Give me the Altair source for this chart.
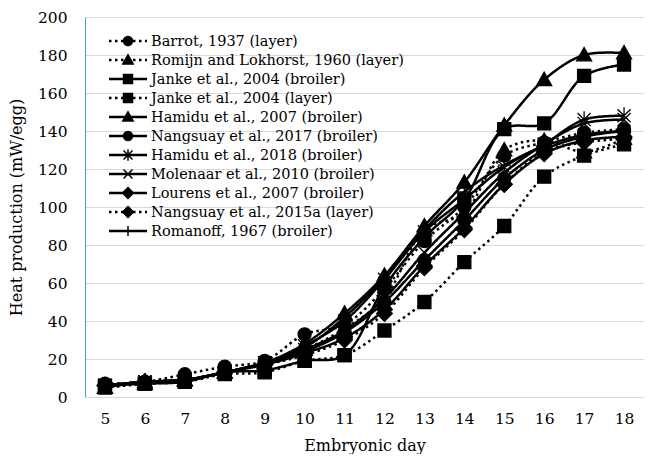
import altair as alt
import pandas as pd

days = list(range(5, 19))

series = [
    "Barrot, 1937 (layer)",
    "Romijn and Lokhorst, 1960 (layer)",
    "Janke et al., 2004 (broiler)",
    "Janke et al., 2004 (layer)",
    "Hamidu et al., 2007 (broiler)",
    "Nangsuay et al., 2017 (broiler)",
    "Hamidu et al., 2018 (broiler)",
    "Molenaar et al., 2010 (broiler)",
    "Lourens et al., 2007 (broiler)",
    "Nangsuay et al., 2015a (layer)",
    "Romanoff, 1967 (broiler)",
]

barrot = [7, 8, 12, 16, 19, 33, 38, 57, 82, 100, 127, 134, 139, 141]
romijn = [5, 7, 9, 13, 18, 25, 36, 52, 88, 97, 130, 135, 129, 136]
janke_broiler = [6, 7, 8, 13, 14, 19, 22, 58, 84, 104, 141, 144, 169, 175]
janke_layer = [5, 7, 8, 12, 13, 19, 22, 35, 50, 71, 90, 116, 127, 133]
hamidu2007 = [5, 8, 9, 13, 18, 28, 44, 64, 90, 113, 143, 167, 180, 181]
nangsuay2017 = [6, 8, 9, 13, 18, 24, 34, 50, 72, 93, 115, 130, 137, 140]
hamidu2018 = [6, 8, 9, 13, 18, 27, 40, 62, 87, 104, 121, 133, 146, 148]
molenaar = [6, 8, 9, 13, 18, 25, 35, 52, 76, 97, 118, 133, 144, 146]
lourens = [6, 8, 9, 13, 17, 23, 31, 46, 69, 89, 112, 128, 135, 137]
nangsuay2015a = [6, 8, 9, 13, 17, 22, 30, 44, 68, 88, 112, 129, 134, 136]
romanoff = [6, 8, 9, 13, 18, 26, 42, 63, 88, 108, 122, 132, 138, 140]

values = [barrot, romijn, janke_broiler, janke_layer, hamidu2007, nangsuay2017,
          hamidu2018, molenaar, lourens, nangsuay2015a, romanoff]

dotted = [True, True, False, True, False, False, False, False, False, True, False]

y_ticks = list(range(0, 201, 20))

rows = []
for name, vals in zip(series, values):
    for d, v in zip(days, vals):
        rows.append({"day": d, "value": v, "series": name})
df = pd.DataFrame(rows)

legend_df = pd.DataFrame({"series": series, "idx": list(range(len(series)))})

CIRCLE = "M1,0A1,1,0,1,1,-1,0A1,1,0,1,1,1,0Z"
TRI = "M0,-1.15L1.15,0.9L-1.15,0.9Z"
SQUARE = "M-1,-1H1V1H-1Z"
DIAMOND = "M0,-1.2L1.2,0L0,1.2L-1.2,0Z"
ASTER = "M-1,-1L1,1M-1,1L1,-1M0,-1.3V1.3"
XMARK = "M-1,-1L1,1M-1,1L1,-1"
PLUS = "M-1,0H1M0,-1.1V1.1"

marker_paths = [CIRCLE, TRI, SQUARE, SQUARE, TRI, CIRCLE, ASTER, XMARK, DIAMOND, DIAMOND, PLUS]

dash_range = [[2.5, 3.5] if d else [1, 0] for d in dotted]

FONT = "DejaVu Serif"

x_enc = alt.X("day:O", title="Embryonic day", sort=days,
              scale=alt.Scale(domain=days, padding=0.5),
              axis=alt.Axis(labelAngle=0, ticks=False, domain=True, domainColor="#d9d9d9",
                            labelPadding=14, titlePadding=11, grid=False))
y_enc = alt.Y("value:Q", title="Heat production (mW/egg)",
              scale=alt.Scale(domain=[0, 200], nice=False),
              axis=alt.Axis(values=y_ticks, ticks=False, grid=True, gridColor="#d9d9d9",
                            domainColor="#4aa3c7", labelPadding=18, titlePadding=13))

dash_scale = alt.Scale(domain=series, range=dash_range)

base = alt.Chart(df)

lines = base.mark_line(interpolate="catmull-rom", color="black", strokeWidth=2.5).encode(
    x=x_enc, y=y_enc,
    detail="series:N",
    strokeDash=alt.StrokeDash("series:N", scale=dash_scale, legend=None),
)

points = base.mark_point(filled=True, fill="black", stroke="black", strokeWidth=1.3,
                         size=170, opacity=1).encode(
    x=x_enc, y=y_enc,
    shape=alt.Shape("series:N", scale=alt.Scale(domain=series, range=marker_paths), legend=None),
)

main = alt.layer(lines, points)

# legend rows: index mapped to pixel rows 19 px apart
leg_y = alt.Y("idx:Q", scale=alt.Scale(domain=[0, 1], range=[24, 43], zero=False, nice=False),
              axis=None)
lbase = alt.Chart(legend_df)

leg_lines = lbase.mark_rule(color="black", strokeWidth=2.5).encode(
    x=alt.value(24), x2=alt.value(62), y=leg_y,
    strokeDash=alt.StrokeDash("series:N", scale=dash_scale, legend=None),
)
leg_points = lbase.mark_point(filled=True, fill="black", stroke="black", strokeWidth=1.5,
                              size=81, opacity=1).encode(
    x=alt.value(43), y=leg_y,
    shape=alt.Shape("series:N", scale=alt.Scale(domain=series, range=marker_paths), legend=None),
)
leg_text = lbase.mark_text(align="left", baseline="middle", font=FONT, fontSize=14.5,
                           color="black", dy=1).encode(
    x=alt.value(66), y=leg_y, text="series:N",
)

legend = alt.layer(leg_lines, leg_points, leg_text)

chart = alt.layer(main, legend).resolve_scale(
    y="independent"
).properties(
    width=559, height=380,
    padding={"left": 0, "top": 2, "right": 0, "bottom": 0},
).configure_view(stroke=None).configure_axis(
    labelFont=FONT, titleFont=FONT, labelFontSize=15.5, titleFontSize=16,
    labelColor="black", titleColor="black", titleFontWeight="normal", domainWidth=1
)

chart.save("out.html", embed_options={"renderer": "svg", "actions": False})
